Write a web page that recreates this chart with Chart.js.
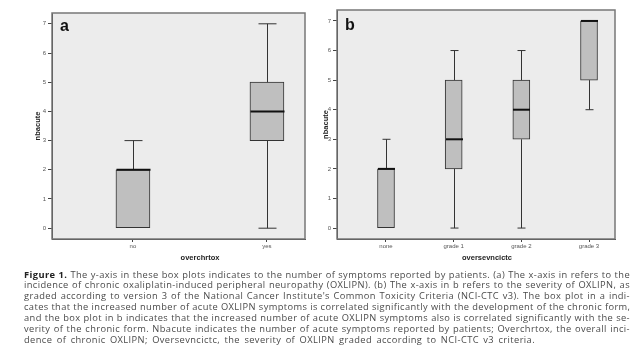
<!DOCTYPE html>
<html>
<head>
<meta charset="utf-8">
<script src="https://cdn.jsdelivr.net/npm/chart.js@4.4.1/dist/chart.umd.min.js"></script>
<style>
  html, body { margin: 0; padding: 0; background: #fff; }
  body { width: 637px; height: 351px; position: relative; overflow: hidden; font-family: "Liberation Sans", Arial, sans-serif; }
  canvas { position: absolute; top: 0; }
  #chart-a { left: 0; }
  #chart-b { left: 318px; }
  .panel-tag { position: absolute; font: bold 16px "Liberation Sans", Arial, sans-serif; color: #111; line-height: 16px; }
  .x-title { position: absolute; top: 253px; font: bold 7.5px "Liberation Sans", Arial, sans-serif; color: #222; transform: translateX(-50%); white-space: nowrap; }
  #caption { position: absolute; left: 24px; top: 269.5px; width: 606px; font-family: "Open Sans", sans-serif; font-size: 9.3px; letter-spacing: 0.4px; line-height: 10.9px; color: #4a4a4a; }
  #caption div { text-align: justify; text-align-last: justify; white-space: nowrap; }
  #caption div.last { text-align-last: left; word-spacing: 1.6px; }
  #caption b { color: #222; }
</style>
</head>
<body>

<canvas id="chart-a" width="320" height="262"></canvas>
<canvas id="chart-b" width="319" height="262"></canvas>

<div class="panel-tag" style="left:60px; top:18px;">a</div>
<div class="panel-tag" style="left:345px; top:17px;">b</div>
<div class="x-title" style="left:200px;">overchrtox</div>
<div class="x-title" style="left:487px;">oversevncictc</div>

<div id="caption">
  <div><b>Figure 1.</b> The y-axis in these box plots indicates to the number of symptoms reported by patients. (a) The x-axis in refers to the</div>
  <div>incidence of chronic oxaliplatin-induced peripheral neuropathy (OXLIPN). (b) The x-axis in b refers to the severity of OXLIPN, as</div>
  <div>graded according to version 3 of the National Cancer Institute's Common Toxicity Criteria (NCI-CTC v3). The box plot in a indi-</div>
  <div>cates that the increased number of acute OXLIPN symptoms is correlated significantly with the development of the chronic form,</div>
  <div>and the box plot in b indicates that the increased number of acute OXLIPN symptoms also is correlated significantly with the se-</div>
  <div>verity of the chronic form. Nbacute indicates the number of acute symptoms reported by patients; Overchrtox, the overall inci-</div>
  <div class="last">dence of chronic OXLIPN; Oversevncictc, the severity of OXLIPN graded according to NCI-CTC v3 criteria.</div>
</div>

<script>
// ---- data ----
const yTicks = [0, 1, 2, 3, 4, 5, 6, 7];

// panel a: nbacute by overchrtox
const aLabels = ['no', 'yes'];
const aMin    = [0, 0];
const aQ1     = [0, 3];
const aMedian = [2, 4];
const aQ3     = [2, 5];
const aMax    = [3, 7];

// panel b: nbacute by oversevncictc
const bLabels = ['none', 'grade 1', 'grade 2', 'grade 3'];
const bMin    = [0, 0, 0, 4];
const bQ1     = [0, 2, 3, 5];
const bMedian = [2, 3, 4, 7];
const bQ3     = [2, 5, 5, 7];
const bMax    = [3, 6, 6, 7];

const tickFont = { family: 'Liberation Sans', size: 6 };

// grey plot area + frame, like the SPSS output
const framePlugin = {
    id: 'frame',
    beforeDraw(chart) {
        const { ctx, chartArea: a } = chart;
        ctx.save();
        ctx.fillStyle = '#ececec';
        ctx.fillRect(a.left, a.top, a.right - a.left, a.bottom - a.top);
        ctx.restore();
    },
    afterDraw(chart) {
        const { ctx, chartArea: a } = chart;
        ctx.save();
        ctx.strokeStyle = '#777';
        ctx.lineWidth = 1.5;
        ctx.strokeRect(a.left, a.top, a.right - a.left, a.bottom - a.top);
        ctx.restore();
    }
};

// whiskers, caps and median lines on top of the floating bars
const whiskerPlugin = {
    id: 'whiskers',
    afterDatasetsDraw(chart, args, opts) {
        const { ctx, scales: { x, y } } = chart;
        ctx.save();
        opts.median.forEach((m, i) => {
            const px = Math.round(x.getPixelForValue(i)) + 0.5;
            const yMin = y.getPixelForValue(opts.min[i]);
            const yQ1 = y.getPixelForValue(opts.q1[i]);
            const yQ3 = y.getPixelForValue(opts.q3[i]);
            const yMax = y.getPixelForValue(opts.max[i]);
            const cap = opts.cap / 2;
            ctx.strokeStyle = '#333';
            ctx.lineWidth = 1;
            ctx.beginPath();
            if (opts.max[i] > opts.q3[i]) {
                ctx.moveTo(px, yQ3); ctx.lineTo(px, yMax);
                ctx.moveTo(px - cap, yMax); ctx.lineTo(px + cap, yMax);
            }
            if (opts.min[i] < opts.q1[i]) {
                ctx.moveTo(px, yQ1); ctx.lineTo(px, yMin);
                ctx.moveTo(px - cap, yMin); ctx.lineTo(px + cap, yMin);
            }
            ctx.stroke();
            const half = opts.box / 2;
            const ym = y.getPixelForValue(m);
            ctx.strokeStyle = '#111';
            ctx.lineWidth = 2;
            ctx.beginPath();
            ctx.moveTo(px - half, ym); ctx.lineTo(px + half, ym);
            ctx.stroke();
        });
        ctx.restore();
    }
};

function makeBoxChart(id, labels, mins, q1s, meds, q3s, maxs, cfg) {
    const boxes = labels.map((_, i) => ({ x: i, y: [q1s[i], q3s[i]] }));
    return new Chart(document.getElementById(id), {
        type: 'bar',
        data: {
            datasets: [{
                data: boxes,
                backgroundColor: '#bfbfbf',
                borderColor: '#333',
                borderWidth: 1,
                borderSkipped: false,
                barThickness: cfg.box
            }]
        },
        options: {
            responsive: false,
            animation: false,
            layout: { padding: cfg.padding },
            plugins: {
                legend: { display: false },
                tooltip: { enabled: false },
                whiskers: { min: mins, q1: q1s, median: meds, q3: q3s, max: maxs, box: cfg.box, cap: cfg.cap }
            },
            scales: {
                x: {
                    type: 'linear',
                    offset: false,
                    min: cfg.xMin,
                    max: cfg.xMax,
                    afterBuildTicks: s => { s.ticks = labels.map((_, i) => ({ value: i })); },
                    afterFit: s => { s.height = 23; },
                    grid: { offset: false, drawOnChartArea: false, drawTicks: true, tickLength: 3, color: '#444' },
                    border: { color: '#333', width: 1 },
                    ticks: { font: tickFont, color: '#555', padding: 1, maxRotation: 0, autoSkip: false,
                             callback: v => labels[v] }
                },
                y: {
                    min: -0.37,
                    max: 7.37,
                    afterBuildTicks: s => { s.ticks = yTicks.map(v => ({ value: v })); },
                    afterFit: s => { s.width = cfg.yWidth; },
                    grid: { drawOnChartArea: false, drawTicks: true, tickLength: 4, color: '#444' },
                    border: { color: '#333', width: 1 },
                    ticks: { font: tickFont, color: '#555', padding: 2 },
                    title: { display: true, text: 'nbacute', color: '#222', padding: 0,
                             font: { family: 'Liberation Sans', size: 7.5, weight: 'bold' } }
                }
            }
        },
        plugins: [framePlugin, whiskerPlugin]
    });
}

makeBoxChart('chart-a', aLabels, aMin, aQ1, aMedian, aQ3, aMax, {
    box: 34, cap: 18, xMin: -0.604, xMax: 1.284, yWidth: 19,
    padding: { left: 33, top: 13, right: 15, bottom: 0 }
});

makeBoxChart('chart-b', bLabels, bMin, bQ1, bMedian, bQ3, bMax, {
    box: 17, cap: 8, xMin: -0.724, xMax: 3.384, yWidth: 16,
    padding: { left: 3, top: 10, right: 22, bottom: 0 }
});
</script>
</body>
</html>
